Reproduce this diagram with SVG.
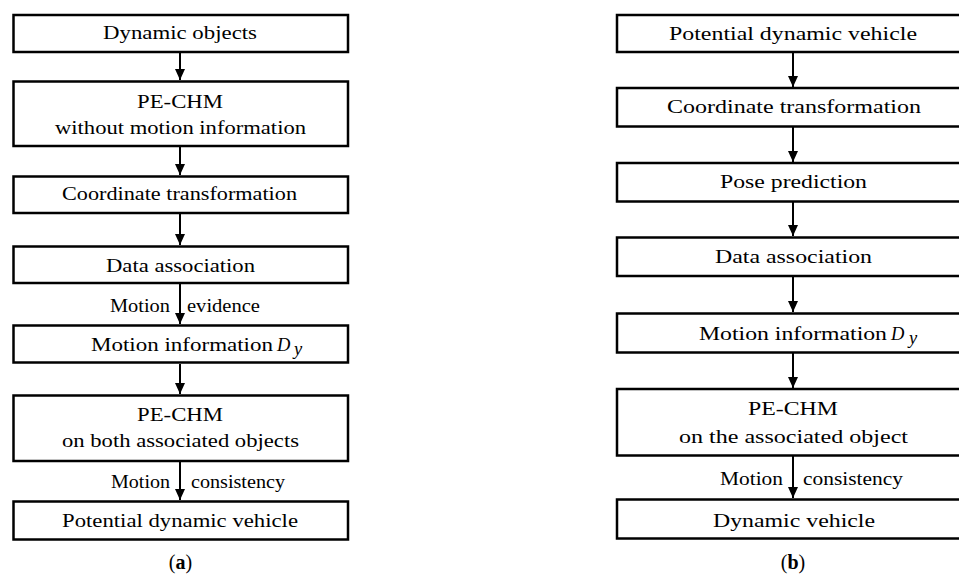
<svg xmlns="http://www.w3.org/2000/svg" width="959" height="576" viewBox="0 0 959 576">
<style>
.box{fill:#fff;stroke:#000;stroke-width:2.5}
.t{font-family:"Liberation Serif","Times New Roman",serif;font-size:19.5px;fill:#000;text-anchor:middle}
.l{font-family:"Liberation Serif","Times New Roman",serif;font-size:18.5px;fill:#000}
.cap{font-family:"Liberation Serif","Times New Roman",serif;font-size:20px;fill:#000;text-anchor:middle}
.c{stroke:#000;stroke-width:2;fill:none;marker-end:url(#ah)}
</style>
<defs>
<marker id="ah" markerUnits="userSpaceOnUse" markerWidth="14" markerHeight="14" refX="11" refY="5.5" orient="auto">
<path d="M0,0.5 L11,5.5 L0,10.5 Z" fill="#000"/>
</marker>
</defs>
<g id="connectors">
<line class="c" x1="180" y1="52" x2="180" y2="80"/>
<line class="c" x1="180" y1="147" x2="180" y2="175"/>
<line class="c" x1="180" y1="214" x2="180" y2="245"/>
<line class="c" x1="180" y1="284" x2="180" y2="324"/>
<line class="c" x1="180" y1="364" x2="180" y2="394"/>
<line class="c" x1="180" y1="462" x2="180" y2="500"/>
<line class="c" x1="793" y1="52" x2="793" y2="87"/>
<line class="c" x1="793" y1="127" x2="793" y2="162"/>
<line class="c" x1="793" y1="202" x2="793" y2="236"/>
<line class="c" x1="793" y1="276" x2="793" y2="312"/>
<line class="c" x1="793" y1="353" x2="793" y2="388"/>
<line class="c" x1="793" y1="456" x2="793" y2="498"/>
<text class="l" x="110" y="312" textLength="60" lengthAdjust="spacingAndGlyphs">Motion</text>
<text class="l" x="187" y="312" textLength="73" lengthAdjust="spacingAndGlyphs">evidence</text>
<text class="l" x="111" y="488" textLength="59" lengthAdjust="spacingAndGlyphs">Motion</text>
<text class="l" x="191" y="488" textLength="94" lengthAdjust="spacingAndGlyphs">consistency</text>
<text class="l" x="720" y="485" textLength="63" lengthAdjust="spacingAndGlyphs">Motion</text>
<text class="l" x="803" y="485" textLength="100" lengthAdjust="spacingAndGlyphs">consistency</text>
</g>
<g id="a1"><rect class="box" x="13.5" y="15" width="334.5" height="37"/><text class="t" x="180" y="39" textLength="154" lengthAdjust="spacingAndGlyphs">Dynamic objects</text></g>
<g id="a2"><rect class="box" x="13.5" y="81.5" width="334.5" height="64.5"/><text class="t" x="180" y="108" textLength="86" lengthAdjust="spacingAndGlyphs">PE-CHM</text><text class="t" x="180.5" y="134" textLength="251" lengthAdjust="spacingAndGlyphs">without motion information</text></g>
<g id="a3"><rect class="box" x="13.5" y="176.5" width="334.5" height="36.5"/><text class="t" x="179.5" y="200" textLength="235" lengthAdjust="spacingAndGlyphs">Coordinate transformation</text></g>
<g id="a4"><rect class="box" x="13.5" y="246.5" width="334.5" height="36.5"/><text class="t" x="180.5" y="272" textLength="149" lengthAdjust="spacingAndGlyphs">Data association</text></g>
<g id="a5"><rect class="box" x="13.5" y="325.5" width="334.5" height="37"/><text class="l" x="91" y="351" textLength="182" lengthAdjust="spacingAndGlyphs" font-size="19.5">Motion information</text><text class="l" x="277" y="351" font-style="italic" font-size="21">D</text><text class="l" x="294" y="355" font-style="italic" font-size="14">y</text></g>
<g id="a6"><rect class="box" x="13.5" y="395.5" width="334.5" height="65.5"/><text class="t" x="180" y="421" textLength="86" lengthAdjust="spacingAndGlyphs">PE-CHM</text><text class="t" x="180.5" y="447" textLength="237" lengthAdjust="spacingAndGlyphs">on both associated objects</text></g>
<g id="a7"><rect class="box" x="13.5" y="501.5" width="334.5" height="38"/><text class="t" x="180" y="527" textLength="236" lengthAdjust="spacingAndGlyphs">Potential dynamic vehicle</text></g>
<g id="b1"><rect class="box" x="617" y="15" width="360" height="37"/><text class="t" x="793" y="40" textLength="248" lengthAdjust="spacingAndGlyphs">Potential dynamic vehicle</text></g>
<g id="b2"><rect class="box" x="617" y="88" width="360" height="38.5"/><text class="t" x="794" y="113" textLength="254" lengthAdjust="spacingAndGlyphs">Coordinate transformation</text></g>
<g id="b3"><rect class="box" x="617" y="163" width="360" height="38.5"/><text class="t" x="793.5" y="188" textLength="147" lengthAdjust="spacingAndGlyphs">Pose prediction</text></g>
<g id="b4"><rect class="box" x="617" y="237.5" width="360" height="38.5"/><text class="t" x="793.5" y="263" textLength="157" lengthAdjust="spacingAndGlyphs">Data association</text></g>
<g id="b5"><rect class="box" x="617" y="313.5" width="360" height="39"/><text class="l" x="699" y="340" textLength="188" lengthAdjust="spacingAndGlyphs" font-size="20">Motion information</text><text class="l" x="891" y="340" font-style="italic" font-size="22">D</text><text class="l" x="909" y="344" font-style="italic" font-size="15">y</text></g>
<g id="b6"><rect class="box" x="617" y="389" width="360" height="66.5"/><text class="t" x="793" y="415" textLength="90" lengthAdjust="spacingAndGlyphs">PE-CHM</text><text class="t" x="793.5" y="443" textLength="229" lengthAdjust="spacingAndGlyphs">on the associated object</text></g>
<g id="b7"><rect class="box" x="617" y="499.5" width="360" height="39"/><text class="t" x="794" y="527" textLength="162" lengthAdjust="spacingAndGlyphs">Dynamic vehicle</text></g>
<text class="cap" x="180.5" y="569">(<tspan font-weight="bold">a</tspan>)</text>
<text class="cap" x="793" y="569">(<tspan font-weight="bold">b</tspan>)</text>
</svg>
